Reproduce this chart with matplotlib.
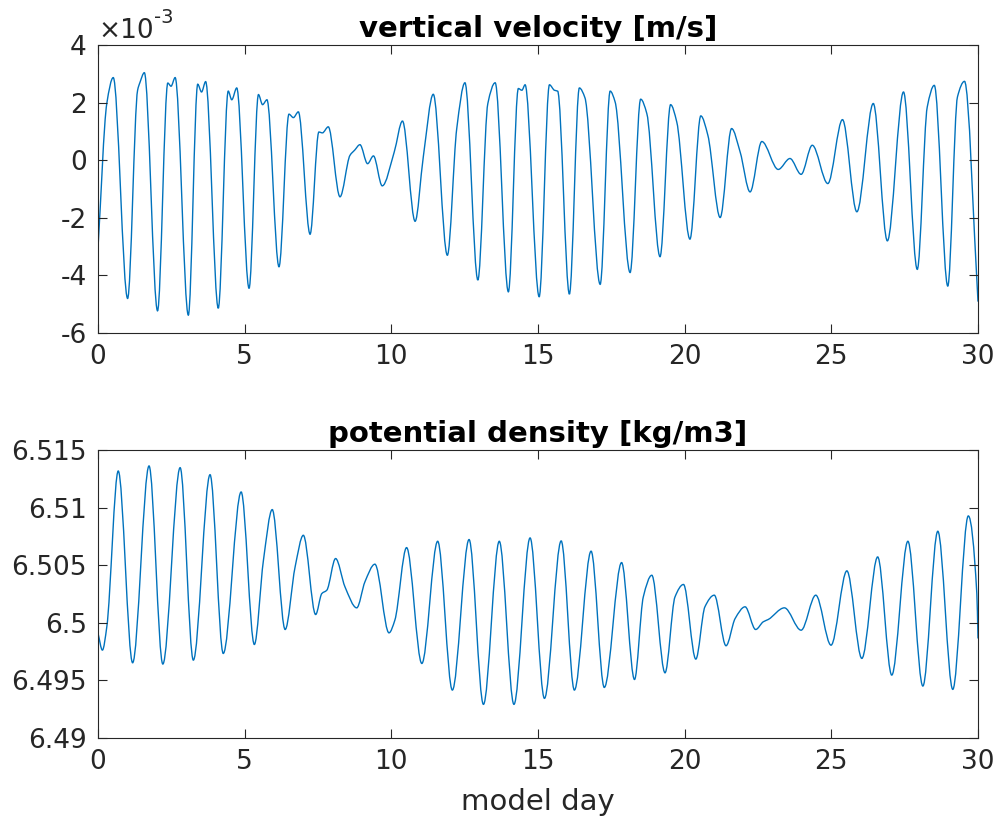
import numpy as np
import matplotlib
matplotlib.use("Agg")
import matplotlib.pyplot as plt
from matplotlib.path import Path
from matplotlib.patches import PathPatch

plt.rcParams['font.family'] = ['DejaVu Sans']
plt.rcParams['axes.unicode_minus'] = False

# ---- data (turning points and shoulders) ----
# vertical velocity, in units of 1e-3 m/s
w_day = [0.00, 0.30, 0.52, 1.01, 1.35, 1.43, 1.58, 2.03, 2.38, 2.49, 2.63, 3.08,
         3.40, 3.53, 3.67, 4.10, 4.44, 4.56, 4.73, 5.15, 5.47, 5.61, 5.76, 6.17,
         6.51, 6.66, 6.83, 7.23, 7.53, 7.65, 7.85, 8.25, 8.59, 8.75, 8.93, 9.19,
         9.39, 9.69, 10.10, 10.38, 10.81, 11.09, 11.43, 11.91, 12.23, 12.51, 12.95,
         13.29, 13.54, 13.99, 14.33, 14.45, 14.56, 15.04, 15.39, 15.56, 15.67, 16.07,
         16.41, 16.60, 17.12, 17.46, 17.63, 18.14, 18.50, 18.71, 19.16, 19.52, 19.73,
         20.18, 20.55, 20.79, 21.21, 21.60, 21.89, 22.23, 22.63, 23.19, 23.59, 23.97,
         24.35, 24.88, 25.38, 25.87, 26.43, 26.91, 27.46, 27.93, 28.27, 28.51, 28.97,
         29.30, 29.54, 30.00]
w_val = [-3.05, 1.97, 2.87, -4.80, 2.43, 2.70, 3.04, -5.23, 2.68, 2.57, 2.87, -5.38,
         2.64, 2.37, 2.73, -5.14, 2.40, 2.10, 2.51, -4.45, 2.28, 1.93, 2.10, -3.70,
         1.60, 1.48, 1.68, -2.57, 0.98, 0.95, 1.16, -1.27, 0.17, 0.35, 0.54, -0.12,
         0.15, -0.89, 0.29, 1.36, -2.12, 0.12, 2.29, -3.30, 1.10, 2.69, -4.16,
         1.97, 2.69, -4.57, 2.49, 2.43, 2.62, -4.74, 2.62, 2.43, 2.40, -4.65,
         2.51, 2.17, -4.31, 2.40, 2.02, -3.90, 2.12, 1.62, -3.35, 1.93, 1.33,
         -2.74, 1.54, 0.87, -1.99, 1.10, 0.29, -1.10, 0.65, -0.32, 0.06, -0.49,
         0.52, -0.81, 1.41, -1.79, 1.97, -2.80, 2.37, -3.79, 1.85, 2.60, -4.37,
         2.20, 2.74, -4.91]

# potential density, kg/m3
rho_day = [0.00, 0.15, 0.30, 0.69, 1.18, 1.74, 2.21, 2.80, 3.25, 3.82, 4.27, 4.88,
           5.33, 5.64, 5.94, 6.38, 6.72, 7.00, 7.42, 7.63, 7.80, 8.10, 8.42, 8.82,
           9.10, 9.44, 9.92, 10.12, 10.52, 11.04, 11.58, 12.08, 12.65, 13.14, 13.68,
           14.18, 14.73, 15.22, 15.79, 16.24, 16.81, 17.26, 17.85, 18.29, 18.59, 18.88,
           19.33, 19.67, 19.96, 20.38, 20.69, 21.01, 21.41, 21.72, 22.06, 22.42, 22.68,
           22.85, 23.40, 23.97, 24.47, 24.99, 25.53, 26.04, 26.58, 27.06, 27.61, 28.12,
           28.63, 29.14, 29.67, 29.96, 30.00]
rho_val = [6.49910, 6.49763, 6.49965, 6.51318, 6.49653, 6.51362, 6.49642, 6.51347,
           6.49676, 6.51286, 6.49734, 6.51136, 6.49812, 6.50543, 6.50983, 6.49942,
           6.50486, 6.50760, 6.50072, 6.50254, 6.50283, 6.50558, 6.50312, 6.50130,
           6.50356, 6.50509, 6.49913, 6.50023, 6.50653, 6.49647, 6.50708, 6.49416,
           6.50723, 6.49292, 6.50708, 6.49292, 6.50737, 6.49344, 6.50711, 6.49416,
           6.50622, 6.49439, 6.50523, 6.49508, 6.50225, 6.50413, 6.49566, 6.50225,
           6.50333, 6.49685, 6.50139, 6.50240, 6.49801, 6.50037, 6.50139, 6.49942,
           6.50009, 6.50029, 6.50130, 6.49936, 6.50240, 6.49806, 6.50451, 6.49691,
           6.50572, 6.49546, 6.50708, 6.49451, 6.50795, 6.49422, 6.50928, 6.50254,
           6.49864]

x_ticks = [0, 5, 10, 15, 20, 25, 30]
w_ticks = [-6, -4, -2, 0, 2, 4]
w_tick_labels = ['-6', '-4', '-2', '0', '2', '4']
rho_ticks = [6.49, 6.495, 6.5, 6.505, 6.51, 6.515]
rho_tick_labels = ['6.49', '6.495', '6.5', '6.505', '6.51', '6.515']

LINE = '#0072BD'
AX = '#262626'


def smooth_path(x, y):
    """Cubic Bezier path through the given points, with shape-preserving
    (monotone) tangents; horizontal at turning points."""
    x = np.asarray(x, float)
    y = np.asarray(y, float)
    n = len(x)
    h = np.diff(x)
    d = np.diff(y) / h
    m = np.zeros(n)
    m[0] = d[0]
    m[-1] = d[-1]
    for k in range(1, n - 1):
        if d[k - 1] * d[k] > 0:
            w1 = 2 * h[k] + h[k - 1]
            w2 = h[k] + 2 * h[k - 1]
            m[k] = (w1 + w2) / (w1 / d[k - 1] + w2 / d[k])
    verts = [(x[0], y[0])]
    codes = [Path.MOVETO]
    for k in range(n - 1):
        verts += [(x[k] + h[k] / 3, y[k] + m[k] * h[k] / 3),
                  (x[k + 1] - h[k] / 3, y[k + 1] - m[k + 1] * h[k] / 3),
                  (x[k + 1], y[k + 1])]
        codes += [Path.CURVE4] * 3
    return Path(verts, codes)


def style(ax):
    for s in ax.spines.values():
        s.set_color(AX)
        s.set_linewidth(0.8)
    ax.tick_params(direction='in', length=6.5, width=0.8, colors=AX,
                   labelsize=19, top=True, right=True, pad=8)
    ax.set_xlim(0, 30)
    ax.set_xticks(x_ticks)


fig = plt.figure(figsize=(10, 8.19), dpi=100)
ax1 = fig.add_axes([0.098, 0.5934, 0.88, 0.3516])
ax2 = fig.add_axes([0.098, 0.0989, 0.88, 0.3516])

# top panel
ax1.add_patch(PathPatch(smooth_path(w_day, w_val), fill=False,
                        edgecolor=LINE, linewidth=1.0))
style(ax1)
ax1.set_ylim(-6, 4)
ax1.set_yticks(w_ticks)
ax1.set_yticklabels(w_tick_labels)
ax1.set_title('vertical velocity [m/s]', fontsize=21, fontweight='bold', pad=6)
t1 = ax1.text(0.0, 1.005, '\u00d710', transform=ax1.transAxes, fontsize=19,
              color=AX, ha='left', va='bottom')
ax1.annotate('-3', xy=(1.0, 0.62), xycoords=t1, fontsize=14, color=AX,
             ha='left', va='bottom')

# bottom panel
ax2.add_patch(PathPatch(smooth_path(rho_day, rho_val), fill=False,
                        edgecolor=LINE, linewidth=1.0))
style(ax2)
ax2.set_ylim(6.49, 6.515)
ax2.set_yticks(rho_ticks)
ax2.set_yticklabels(rho_tick_labels)
ax2.set_title('potential density [kg/m3]', fontsize=21, fontweight='bold', pad=6)
ax2.set_xlabel('model day', fontsize=21, color=AX, labelpad=9)

fig.savefig('out.png', dpi=100, facecolor='white')
